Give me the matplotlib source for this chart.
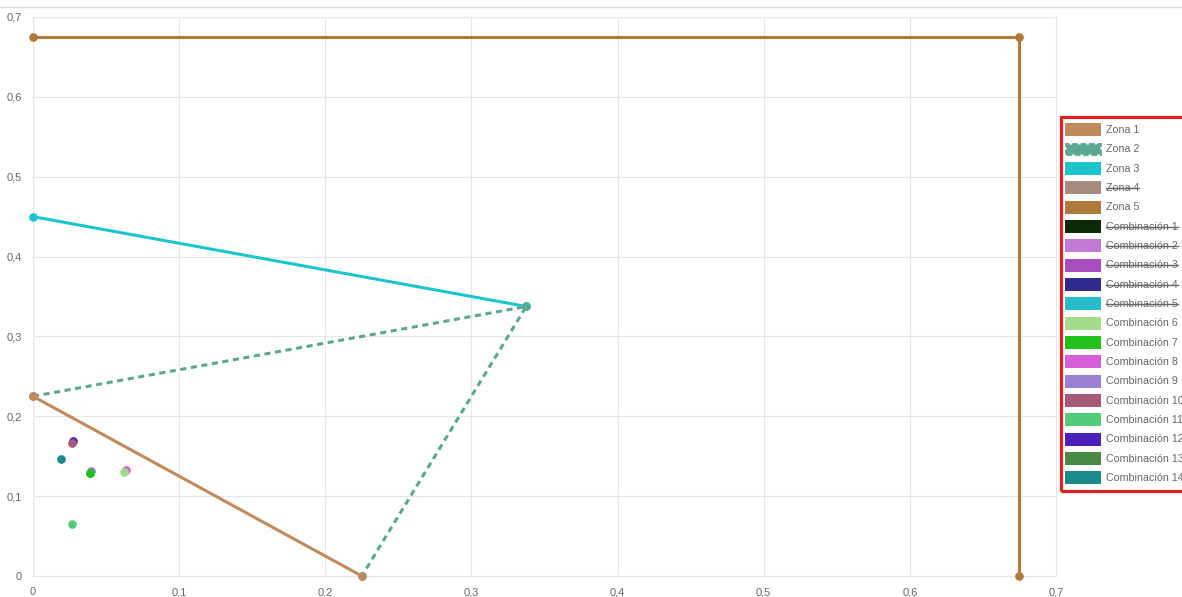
import numpy as np
import matplotlib
matplotlib.use("Agg")
import matplotlib.pyplot as plt
from matplotlib.patches import Rectangle
from matplotlib.lines import Line2D

plt.rcParams['font.family'] = ['Liberation Sans', 'DejaVu Sans']

# zonas (lines)
zona1_x = [0, 0.225]
zona1_y = [0.225, 0]
zona2_x = [0, 0.3375, 0.225]
zona2_y = [0.225, 0.3375, 0]
zona3_x = [0, 0.3375]
zona3_y = [0.45, 0.3375]
zona5_x = [0, 0.675, 0.675]
zona5_y = [0.675, 0.675, 0]

# combinaciones (points)
comb_names = ['Combinación 6', 'Combinación 7', 'Combinación 8', 'Combinación 9',
              'Combinación 10', 'Combinación 11', 'Combinación 12', 'Combinación 13',
              'Combinación 14']
comb_x = [0.0625, 0.0393, 0.0636, 0.0397, 0.0267, 0.0267, 0.0272, 0.0390, 0.0192]
comb_y = [0.130, 0.129, 0.1327, 0.1315, 0.1665, 0.0645, 0.169, 0.1295, 0.1465]

legend_labels = ['Zona 1', 'Zona 2', 'Zona 3', 'Zona 4', 'Zona 5',
                 'Combinación 1', 'Combinación 2', 'Combinación 3', 'Combinación 4',
                 'Combinación 5'] + comb_names
legend_colors = ['#c08a5c', '#5aa892', '#1ec4cc', '#a58c7e', '#b07a3a',
                 '#0a2a08', '#c07ad6', '#a84fc0', '#2e2a8a', '#25bccc',
                 '#a3dc8a', '#22c01a', '#d65ed6', '#9b80d4', '#a65a78',
                 '#52cc78', '#4a22b8', '#4a8a45', '#1a8a8a']
hidden = ['Zona 4', 'Combinación 1', 'Combinación 2', 'Combinación 3',
          'Combinación 4', 'Combinación 5']

W, H = 1182, 597
fig = plt.figure(figsize=(W / 100, H / 100), dpi=100)
ax = fig.add_axes([33 / W, 21 / H, 1023 / W, 559 / H])

col = dict(zip(legend_labels, legend_colors))
lw = 2.2
ms = 5.2
ax.plot(zona5_x, zona5_y, color=col['Zona 5'], lw=lw, marker='o', ms=ms, zorder=3, clip_on=False)
ax.plot(zona3_x, zona3_y, color=col['Zona 3'], lw=lw, marker='o', ms=ms, zorder=4, clip_on=False)
ax.plot(zona2_x, zona2_y, color=col['Zona 2'], lw=lw, ls=(0, (2, 1.5)), marker='o', ms=ms,
        zorder=5, clip_on=False)
ax.plot(zona1_x, zona1_y, color=col['Zona 1'], lw=lw, marker='o', ms=ms, zorder=6, clip_on=False)
for i in reversed(range(len(comb_names))):
    ax.plot(comb_x[i], comb_y[i], 'o', color=col[comb_names[i]], ms=ms, zorder=7 + (8 - i) * 0.01)

ax.set_xlim(0, 0.7)
ax.set_ylim(0, 0.7)
ticks = np.arange(0, 0.71, 0.1)
labels = ['0'] + [('%.1f' % t).replace('.', ',') for t in ticks[1:]]
ax.set_xticks(ticks)
ax.set_xticklabels(labels)
ax.set_yticks(ticks)
ax.set_yticklabels(labels)
ax.tick_params(length=0, labelsize=8, labelcolor='#666666', pad=8)
ax.grid(color='#e6e6e6', lw=0.8)
ax.set_axisbelow(True)
for s in ax.spines.values():
    s.set_color('#e6e6e6')
    s.set_linewidth(0.8)

# top separator line
fig.add_artist(Line2D([0, 1], [1 - 7 / H, 1 - 7 / H], color='#e0e0e0', lw=1))

# custom legend (pixel coordinates)
def fx(x):
    return x / W

def fy(y):
    return 1 - y / H

fig.add_artist(Rectangle((fx(1060.5), fy(490.5)), (W + 5 - 1060.5) / W, (490.5 - 116.5) / H,
                         fill=False, ec='#e02020', lw=2.3, transform=fig.transFigure))

texts = []
for i, (lab, c) in enumerate(zip(legend_labels, legend_colors)):
    yc = 130 + i * 19.33
    if lab == 'Zona 2':
        fig.add_artist(Rectangle((fx(1066), fy(yc + 5)), 34 / W, 10 / H, fc=c, ec=c, lw=2,
                                 ls=(0, (2, 1)), transform=fig.transFigure))
    else:
        fig.add_artist(Rectangle((fx(1065), fy(yc + 6.5)), 36 / W, 13 / H, fc=c, ec='none',
                                 transform=fig.transFigure))
    t = fig.text(fx(1106), fy(yc), lab, fontsize=7.7, color='#666666', va='center', ha='left')
    texts.append((t, lab))

fig.canvas.draw()
r = fig.canvas.get_renderer()
for t, lab in texts:
    if lab in hidden:
        bb = t.get_window_extent(r)
        yl = (bb.y0 + bb.y1) / 2 / H
        fig.add_artist(Line2D([bb.x0 / W, bb.x1 / W], [yl, yl], color='#666666', lw=1))

fig.savefig('out.png', dpi=100)
